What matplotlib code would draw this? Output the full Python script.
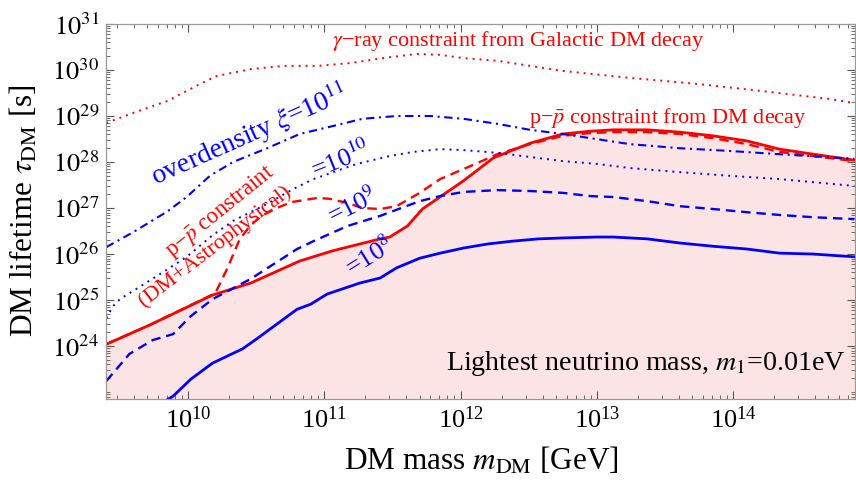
"""
DM lifetime constraints vs DM mass, with overdensity curves.
"""
import matplotlib
matplotlib.use("Agg")
import matplotlib.pyplot as plt
import numpy as np
from matplotlib.ticker import FixedLocator, LogLocator, NullFormatter

plt.rcParams["font.family"] = ["Liberation Serif", "DejaVu Serif"]
plt.rcParams["mathtext.fontset"] = "stix"

# all values are log10(m_DM / GeV) and log10(tau_DM / s)
gamma_logm = [9.40, 9.60, 9.85, 10.09, 10.21, 10.46, 10.70, 10.95, 11.19, 11.43, 11.68,
              11.85, 12.02, 12.27, 12.51, 12.75, 13.24, 13.73, 14.22, 14.71, 14.89]
gamma_logt = [28.85, 29.07, 29.33, 29.70, 29.87, 30.02, 30.09, 30.09, 30.15, 30.26, 30.35,
              30.33, 30.26, 30.20, 30.09, 29.98, 29.83, 29.70, 29.54, 29.37, 29.28]

ppbar_logm = [9.40, 9.72, 10.18, 10.46, 10.82, 11.06, 11.41, 11.48, 11.61, 11.72, 12.02,
              12.24, 12.51, 12.75, 12.95, 13.12, 13.37, 13.61, 13.85, 14.10, 14.34, 14.59,
              14.89]
ppbar_logt = [24.04, 24.46, 25.11, 25.37, 25.85, 26.07, 26.33, 26.37, 26.61, 26.98, 27.59,
              28.09, 28.41, 28.61, 28.67, 28.70, 28.70, 28.65, 28.57, 28.46, 28.28, 28.17,
              28.04]

astro_logm = [9.40, 9.72, 10.20, 10.29, 10.38, 10.46, 10.54, 10.65, 10.76, 10.95, 11.04,
              11.17, 11.28, 11.41, 11.53, 11.70, 11.85, 12.07, 12.27, 12.51, 12.75, 12.95,
              13.12, 13.37, 13.61, 13.85, 14.10, 14.34, 14.59, 14.89]
astro_logt = [24.04, 24.46, 25.15, 25.70, 26.33, 26.63, 26.83, 27.00, 27.13, 27.22, 27.20,
              27.11, 27.00, 26.98, 27.04, 27.33, 27.63, 27.91, 28.17, 28.39, 28.57, 28.63,
              28.65, 28.65, 28.61, 28.52, 28.39, 28.22, 28.13, 28.02]

xi8_logm = [9.80, 9.89, 10.02, 10.18, 10.40, 10.51, 10.80, 10.90, 11.02, 11.26, 11.41,
            11.53, 11.70, 11.85, 12.02, 12.20, 12.38, 12.57, 12.75, 13.00, 13.12, 13.37,
            13.61, 13.85, 14.10, 14.34, 14.59, 14.89]
xi8_logt = [22.75, 22.91, 23.28, 23.63, 23.94, 24.17, 24.80, 24.91, 25.13, 25.37, 25.48,
            25.70, 25.91, 26.02, 26.13, 26.22, 26.28, 26.33, 26.35, 26.37, 26.37, 26.33,
            26.24, 26.17, 26.11, 26.02, 26.00, 25.94]

xi9_logm = [9.40, 9.57, 9.74, 9.89, 10.02, 10.18, 10.46, 10.80, 10.92, 11.17, 11.41,
            11.70, 11.85, 12.02, 12.27, 12.51, 12.75, 12.95, 13.12, 13.37, 13.61, 13.85,
            14.10, 14.34, 14.59, 14.89]
xi9_logt = [23.24, 23.83, 24.13, 24.26, 24.65, 25.02, 25.46, 26.11, 26.28, 26.61, 26.83,
            27.15, 27.26, 27.35, 27.39, 27.37, 27.33, 27.26, 27.24, 27.15, 27.04, 26.98,
            26.91, 26.85, 26.80, 26.76]

xi10_logm = [9.40, 9.45, 9.50, 9.57, 9.63, 9.85, 9.99, 10.18, 10.33, 10.58, 10.77, 10.92,
             11.24, 11.48, 11.65, 11.85, 12.02, 12.27, 12.51, 12.75, 13.00, 13.24, 13.61,
             13.98, 14.34, 14.89]
xi10_logt = [24.61, 24.87, 25.02, 25.15, 25.26, 25.67, 25.94, 26.41, 26.72, 27.09, 27.41,
             27.63, 27.96, 28.13, 28.22, 28.28, 28.26, 28.20, 28.11, 28.02, 27.96, 27.87,
             27.78, 27.70, 27.63, 27.48]

xi11_logm = [9.40, 9.60, 9.85, 9.99, 10.16, 10.33, 10.58, 10.82, 11.06, 11.28, 11.53,
             11.78, 12.02, 12.27, 12.51, 12.75, 12.95, 13.24, 13.61, 13.98, 14.34, 14.89]
xi11_logt = [26.15, 26.48, 26.93, 27.24, 27.70, 28.00, 28.30, 28.61, 28.78, 28.94, 29.00,
             29.00, 28.94, 28.83, 28.70, 28.61, 28.52, 28.39, 28.30, 28.24, 28.17, 28.07]

y_major_exp = [24, 25, 26, 27, 28, 29, 30, 31]

XLIM = (9.398, 14.894)
YLIM = (22.85, 31.0)

RED = "#ff0000"
BLUE = "#0000ff"
PINK = "#fde4e4"


def p(v):
    return 10.0 ** np.asarray(v)


def main():
    fig = plt.figure(figsize=(8.56, 4.8), dpi=100)
    ax = fig.add_axes([106 / 856, 81 / 480, 749 / 856, 375 / 480])
    ax.set_xscale("log")
    ax.set_yscale("log")

    ax.fill_between(p(ppbar_logm), p(ppbar_logt), 1e20, color=PINK, lw=0, zorder=0)

    ax.plot(p(gamma_logm), p(gamma_logt), color=RED, lw=1.4, ls=(0, (1, 2.6)))
    ax.plot(p(astro_logm), p(astro_logt), color=RED, lw=1.7, ls=(0, (4, 2.5)))
    ax.plot(p(ppbar_logm), p(ppbar_logt), color=RED, lw=2.0)
    ax.plot(p(xi8_logm), p(xi8_logt), color=BLUE, lw=2.0)
    ax.plot(p(xi9_logm), p(xi9_logt), color=BLUE, lw=1.7, ls=(0, (4, 2.5)))
    ax.plot(p(xi10_logm), p(xi10_logt), color=BLUE, lw=1.4, ls=(0, (1, 2.6)))
    ax.plot(p(xi11_logm), p(xi11_logt), color=BLUE, lw=1.5, ls=(0, (4, 2.2, 1, 2.2)))

    ax.set_xlim(p(XLIM))
    ax.set_ylim(p(YLIM))

    ax.xaxis.set_major_locator(LogLocator(base=10, numticks=20))
    ax.xaxis.set_minor_locator(LogLocator(base=10, subs=np.arange(2, 10), numticks=50))
    ax.yaxis.set_major_locator(FixedLocator(p(y_major_exp)))
    ax.yaxis.set_minor_locator(LogLocator(base=10, subs=np.arange(1, 10), numticks=50))
    ax.xaxis.set_minor_formatter(NullFormatter())
    ax.yaxis.set_minor_formatter(NullFormatter())
    ax.set_yticklabels([rf"$10^{{{e}}}$" for e in y_major_exp])
    ax.tick_params(which="both", direction="in", top=True, right=True, color="#555555")
    ax.tick_params(which="major", length=6, width=0.8, labelsize=19, pad=5)
    ax.tick_params(which="minor", length=3, width=0.6)
    for s in ax.spines.values():
        s.set_color("#999999")
        s.set_linewidth(0.9)

    # labels
    def t(x, y, s, **kw):
        ax.text(10 ** x, 10 ** y, s, ha="center", va="center", rotation_mode="anchor", **kw)

    t(12.42, 30.63, "$\\gamma$\u2212ray constraint from Galactic DM decay", color=RED, fontsize=16)
    t(13.52, 28.96, "p\u2212$\\bar{p}$ constraint from DM decay", color=RED, fontsize=16)
    t(10.45, 28.60, r"overdensity $\xi$=10$^{11}$", color=BLUE, fontsize=20, rotation=24)
    t(11.12, 28.05, r"=10$^{10}$", color=BLUE, fontsize=19, rotation=22)
    t(11.21, 27.03, r"=10$^{9}$", color=BLUE, fontsize=19, rotation=27)
    t(11.33, 25.95, r"=10$^{8}$", color=BLUE, fontsize=19, rotation=32)
    t(10.235, 26.93, "p\u2212$\\bar{p}$ constraint", color=RED, fontsize=16.5, rotation=39)
    t(10.20, 26.17, "(DM+Astrophysical)", color=RED, fontsize=16, rotation=37.5)
    t(13.36, 23.63, r"Lightest neutrino mass, $m_1$=0.01eV", color="black", fontsize=20.2)

    fig.text(481 / 856, 1 - 461 / 480, r"DM mass $m_{\mathrm{DM}}$ [GeV]",
             ha="center", va="center", fontsize=22.5)
    fig.text(24 / 856, 1 - 211 / 480, r"DM lifetime $\tau_{\mathrm{DM}}$ [s]",
             ha="center", va="center", rotation=90, fontsize=22.5)

    fig.savefig("out.png", dpi=100)


if __name__ == "__main__":
    main()
